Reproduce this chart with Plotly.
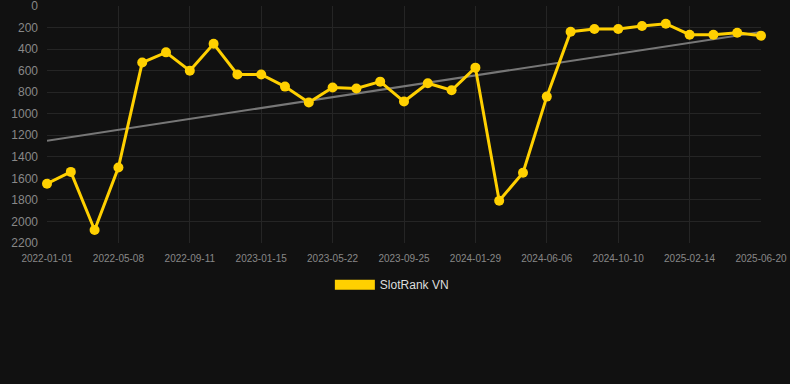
import plotly.graph_objects as go

dates = [
    "2022-01-01", "2022-02-12", "2022-03-26", "2022-05-08", "2022-06-19", "2022-07-31",
    "2022-09-11", "2022-10-23", "2022-12-04", "2023-01-15", "2023-02-26", "2023-04-09",
    "2023-05-22", "2023-07-03", "2023-08-14", "2023-09-25", "2023-11-06", "2023-12-18",
    "2024-01-29", "2024-03-12", "2024-04-24", "2024-06-06", "2024-07-18", "2024-08-29",
    "2024-10-10", "2024-11-21", "2025-01-02", "2025-02-14", "2025-03-28", "2025-05-09",
    "2025-06-20",
]
ranks = [
    1650, 1540, 2080, 1500, 525, 430, 600, 350, 635, 635, 748, 895,
    757, 766, 702, 887, 717, 782, 572, 1808, 1548, 841, 238, 213,
    213, 185, 164, 266, 266, 248, 275,
]
trend_x = [dates[0], dates[-1]]
trend_y = [1250, 240]
tick_labels = dates[::3]
y_ticks = [0, 200, 400, 600, 800, 1000, 1200, 1400, 1600, 1800, 2000, 2200]

YELLOW = "#FFD000"

fig = go.Figure()
fig.add_trace(go.Scatter(
    x=trend_x, y=trend_y, mode="lines",
    line=dict(color="#777777", width=2),
    showlegend=False, hoverinfo="skip",
))
fig.add_trace(go.Scatter(
    x=dates, y=ranks, mode="lines+markers",
    line=dict(color=YELLOW, width=3),
    marker=dict(color=YELLOW, size=10),
    showlegend=False, name="SlotRank VN", cliponaxis=False,
))
fig.add_trace(go.Scatter(
    x=[None], y=[None], mode="lines",
    line=dict(color=YELLOW, width=10),
    name="SlotRank VN", showlegend=True,
))

fig.update_layout(
    width=790, height=384,
    margin=dict(l=47, r=29, t=6, b=141, autoexpand=False),
    paper_bgcolor="#111111", plot_bgcolor="#111111",
    font=dict(family="Liberation Sans, Arial, sans-serif", color="#888888"),
    legend=dict(
        orientation="h", x=0.483, xanchor="center", y=-0.115, yanchor="top",
        font=dict(size=12, color="#dddddd"), bgcolor="rgba(0,0,0,0)",
        itemwidth=40,
    ),
    xaxis=dict(
        type="category", categoryorder="array", categoryarray=dates,
        range=[0, len(dates) - 1],
        tickvals=tick_labels, ticktext=tick_labels,
        tickfont=dict(size=10, color="#888888"),
        showgrid=True, gridcolor="#252525", gridwidth=1,
        zeroline=False, showline=False, ticks="",
        ticklabelstandoff=8, automargin=False,
    ),
    yaxis=dict(
        range=[2200.5, -0.5], tickvals=y_ticks,
        tickfont=dict(size=12, color="#888888"),
        showgrid=True, gridcolor="#252525", gridwidth=1,
        zeroline=False, showline=False, ticks="",
        ticklabelstandoff=8, ticklabeloverflow="allow", automargin=False,
    ),
)

fig.write_html(
    "out.html",
    config={"displayModeBar": False},
    post_script="document.body.style.margin='0';document.body.style.background='#111111';",
)
